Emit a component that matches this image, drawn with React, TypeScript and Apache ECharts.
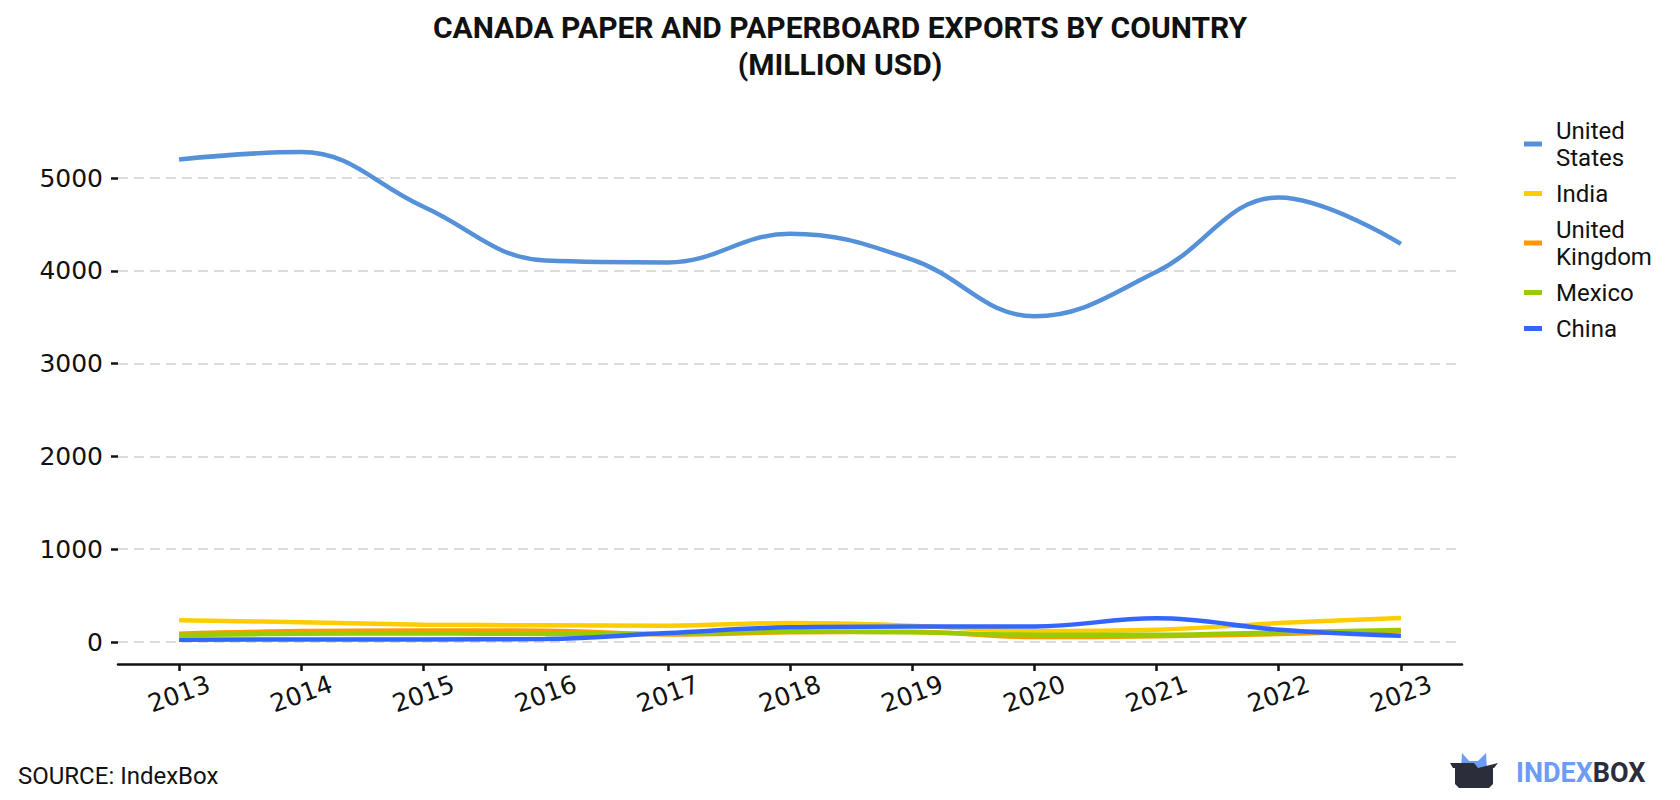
import React, { useEffect, useRef } from "react";
import * as echarts from "echarts";

const years = ["2013", "2014", "2015", "2016", "2017", "2018", "2019", "2020", "2021", "2022", "2023"];
const seriesNames = ["United States", "India", "United Kingdom", "Mexico", "China"];
const seriesColors = ["#5591d9", "#ffcc00", "#ff9900", "#99cc00", "#3366ff"];
const unitedStates = [5200, 5280, 4690, 4110, 4090, 4400, 4120, 3510, 3990, 4790, 4290];
const india = [235, 212, 187, 180, 176, 204, 176, 118, 132, 204, 258];
const unitedKingdom = [89, 118, 125, 122, 82, 104, 110, 53, 61, 86, 120];
const mexico = [75, 89, 93, 86, 90, 114, 104, 79, 79, 104, 129];
const china = [25, 28, 28, 32, 97, 158, 168, 168, 255, 133, 68];
const seriesValues = [unitedStates, india, unitedKingdom, mexico, china];
const yTicks = { min: 0, max: 5000, interval: 1000 };

export default function App() {
  const ref = useRef<HTMLDivElement>(null);
  useEffect(() => {
    if (!ref.current) return;
    const chart = echarts.init(ref.current, null, { renderer: "svg" });
    const option: any = {
      animation: false,
      backgroundColor: "#ffffff",
      title: {
        text: "CANADA PAPER AND PAPERBOARD EXPORTS BY COUNTRY\n(MILLION USD)",
        left: "center",
        top: 4,
        textStyle: {
          fontFamily: "Roboto",
          fontWeight: "bold",
          fontSize: 30,
          lineHeight: 37,
          color: "#111",
        },
      },
      legend: {
        orient: "vertical",
        left: 1519,
        top: 112,
        itemWidth: 18,
        itemHeight: 5,
        itemGap: 9,
        icon: "rect",
        data: seriesNames,
        formatter: (n: string) => n.replace(" ", "\n"),
        textStyle: {
          fontFamily: "Roboto",
          fontSize: 24,
          lineHeight: 27,
          color: "#111",
          padding: [0, 0, 0, 9],
        },
      },
      grid: { left: 118, right: 218, top: 178, bottom: 158, containLabel: false },
      xAxis: {
        type: "category",
        data: years,
        boundaryGap: true,
        offset: 22,
        axisLine: { show: true, onZero: false, lineStyle: { color: "#111", width: 2.5 } },
        axisTick: { show: true, alignWithLabel: true, length: 7, lineStyle: { color: "#111", width: 2.5 } },
        axisLabel: {
          rotate: 20,
          align: "center",
          verticalAlign: "middle",
          margin: 30,
          fontFamily: "DejaVu Sans",
          fontSize: 25,
          color: "#111",
        },
        splitLine: { show: false },
      },
      yAxis: {
        type: "value",
        min: yTicks.min,
        max: yTicks.max,
        interval: yTicks.interval,
        axisLine: { show: false },
        axisTick: { show: true, length: 7, lineStyle: { color: "#111", width: 2.5 } },
        axisLabel: {
          margin: 15,
          fontFamily: "DejaVu Sans",
          fontSize: 25,
          color: "#111",
          formatter: (v: number) => String(v),
        },
        splitLine: { show: true, lineStyle: { color: "#dcdcdc", width: 2, type: [10, 6] } },
      },
      series: seriesNames.map((name, i) => ({
        name,
        type: "line",
        data: seriesValues[i],
        smooth: 0.4,
        showSymbol: false,
        symbol: "none",
        clip: false,
        z: 2 + i,
        lineStyle: { color: seriesColors[i], width: 4.5 },
        itemStyle: { color: seriesColors[i] },
      })),
      graphic: [
        {
          type: "text",
          left: 18,
          top: 764,
          style: { text: "SOURCE: IndexBox", fontFamily: "Roboto", fontSize: 24, fill: "#111" },
        },
        {
          type: "polygon",
          shape: { points: [[1462, 753], [1469, 761], [1478, 761], [1486, 753], [1487, 770], [1461, 770]] },
          style: { fill: "#6b9cf7" },
        },
        {
          type: "polygon",
          shape: { points: [[1450, 763], [1474, 763], [1478, 768], [1498, 763], [1494, 768], [1493, 768], [1493, 784], [1489, 788], [1459, 788], [1455, 784], [1455, 768], [1453, 768]] },
          style: { fill: "#2b2d3b" },
        },
        {
          type: "text",
          left: 1516,
          top: 759,
          style: {
            text: "{a|INDEX}{b|BOX}",
            rich: {
              a: { fontFamily: "Roboto", fontWeight: "bold", fontSize: 27, fill: "#6b9cf7", color: "#6b9cf7" },
              b: { fontFamily: "Roboto", fontWeight: "bold", fontSize: 27, fill: "#2b2d3b", color: "#2b2d3b" },
            },
          },
        },
      ],
    };
    chart.setOption(option);
    return () => chart.dispose();
  }, []);
  return <div ref={ref} style={{ position: "fixed", left: 0, top: 0, width: 1680, height: 800 }} />;
}
